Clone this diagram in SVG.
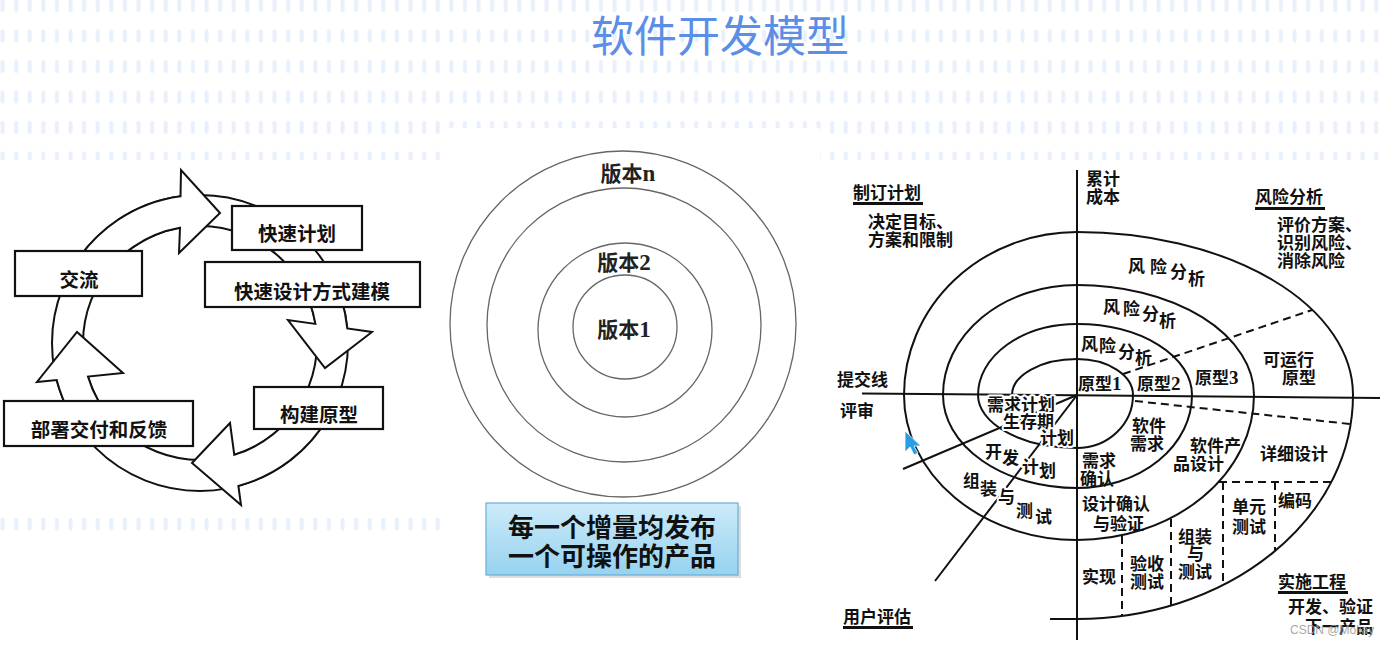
<svg xmlns="http://www.w3.org/2000/svg" width="1383" height="645" viewBox="0 0 1383 645">
<defs>
<pattern id="dots" patternUnits="userSpaceOnUse" x="0" y="-2" width="13.6" height="30.5">
<rect x="0.5" y="1" width="4" height="13" rx="2" fill="#e8f0fb"/>
</pattern>
<linearGradient id="bluebox" x1="0" y1="0" x2="0" y2="1">
<stop offset="0" stop-color="#cdebf9"/>
<stop offset="1" stop-color="#96d2ef"/>
</linearGradient>
</defs>
<style>
.box{fill:#fff;stroke:#111;stroke-width:2.2}
.ring{fill:#fff;stroke:#111;stroke-width:2}
.lt{font-family:"Noto Sans CJK SC","Noto Sans",sans-serif;font-size:19.5px;font-weight:bold;text-anchor:middle;fill:#111}
.mc{fill:none;stroke:#666;stroke-width:1.3}
.vt{font-family:"Noto Sans CJK SC",sans-serif;font-size:21px;font-weight:bold;fill:#222;text-anchor:middle}
.dg{font-family:"Liberation Serif",serif;font-weight:bold}
.sp{fill:none;stroke:#111;stroke-width:2}
.dash{fill:none;stroke:#111;stroke-width:2;stroke-dasharray:8 5}
.st{font-family:"Noto Sans CJK SC",sans-serif;font-size:17px;font-weight:bold;fill:#111}
.halo{stroke:#fff;stroke-width:4;paint-order:stroke;stroke-linejoin:round}
.ul{fill:#111}
</style>

<!-- background -->
<rect x="0" y="0" width="1383" height="645" fill="#fff"/>
<rect x="0" y="0" width="1383" height="160" fill="url(#dots)"/>
<rect x="0" y="518" width="440" height="16" fill="url(#dots)"/>
<rect x="441" y="128" width="379" height="517" fill="#fff"/>

<g id="title">
<text x="720" y="52" font-family="'Noto Sans CJK SC',sans-serif" font-size="43" fill="#5b8ee6" text-anchor="middle">软件开发模型</text>
</g>

<!-- ===== Left: prototype cycle ===== -->
<g id="cycle-connectors">
<path class="ring" fill-rule="evenodd" d="M52 343 A148 148 0 1 1 348 343 A148 148 0 1 1 52 343 Z M83 343 A117 117 0 1 0 317 343 A117 117 0 1 0 83 343 Z"/>
<path class="ring" d="M72 269 A148 148 0 0 1 180.5 196.3 L181 170 L220 213 L179 253 L180 227.7 A117 117 0 0 0 98.7 284.5 Z"/>
<path class="ring" d="M328.2 269 A148 148 0 0 1 347.3 328.4 L372 332 L325 368 L288 320 L315.4 323.9 A117 117 0 0 0 301.3 284.5 Z"/>
<path class="ring" d="M328.2 417 A148 148 0 0 1 238.4 485.9 L241 505 L192 463 L230 423 L234.3 454.9 A117 117 0 0 0 301.3 401.5 Z"/>
<path class="ring" d="M71.8 417 A148 148 0 0 1 56.7 380 L37 382 L77 332 L123 373 L88 376.6 A117 117 0 0 0 98.7 401.5 Z"/>
</g>
<g id="node-kuaisujihua"><rect class="box" x="232" y="206" width="130" height="44"/><text class="lt" x="297" y="241">快速计划</text></g>
<g id="node-kuaisusheji"><rect class="box" x="205" y="262" width="215" height="45"/><text class="lt" x="312" y="299">快速设计方式建模</text></g>
<g id="node-jiaoliu"><rect class="box" x="15" y="251" width="127" height="45"/><text class="lt" x="79" y="287">交流</text></g>
<g id="node-goujian"><rect class="box" x="254" y="387" width="129" height="42"/><text class="lt" x="319" y="422">构建原型</text></g>
<g id="node-bushu"><rect class="box" x="4" y="401" width="189" height="45"/><text class="lt" x="99" y="437">部署交付和反馈</text></g>

<!-- ===== Middle: incremental ===== -->
<g id="incremental">
<circle class="mc" cx="623" cy="324" r="173"/>
<circle class="mc" cx="624" cy="325" r="137"/>
<circle class="mc" cx="625" cy="330" r="87"/>
<circle class="mc" cx="625" cy="327" r="52"/>
<text class="vt" x="628" y="181">版本<tspan class="dg" font-size="23">n</tspan></text>
<text class="vt" x="624" y="270">版本<tspan class="dg" font-size="23">2</tspan></text>
<text class="vt" x="624" y="337">版本<tspan class="dg" font-size="23">1</tspan></text>
</g>
<g id="node-increment-note">
<rect x="489" y="506" width="252" height="72" fill="#bbb" opacity="0.5"/>
<rect x="486" y="503" width="252" height="72" fill="url(#bluebox)" stroke="#6aaed6" stroke-width="1.2"/>
<text font-family="'Noto Sans CJK SC',sans-serif" font-size="26" font-weight="bold" fill="#111" text-anchor="middle"><tspan x="612" y="537">每一个增量均发布</tspan><tspan x="612" y="566">一个可操作的产品</tspan></text>
</g>

<!-- ===== Right: spiral ===== -->
<g id="spiral-connectors">
<path class="sp" d="M1077 170 V640"/>
<path class="sp" d="M862 393.5 L1380 398"/>
<path class="sp" d="M1050 619 H1077"/>
<path class="sp" d="M1012 395 A65 36 0 0 1 1077 359 A56 36 0 0 1 1133 395 A56 53 0 0 1 1077 448 A99 53 0 0 1 978 395 A99 71 0 0 1 1077 324 A115 71 0 0 1 1192 395 A115 93 0 0 1 1077 488 A134 93 0 0 1 943 395 A134 110 0 0 1 1077 285 A177 110 0 0 1 1254 395 A177 145 0 0 1 1077 540 A173 145 0 0 1 904 395 A173 163 0 0 1 1077 232 A276 163 0 0 1 1353 395 A276 224 0 0 1 1077 619"/>
<path class="sp" d="M1077 395 L903 469"/>
<path class="sp" d="M1077 395 L935 581"/>
<path class="dash" d="M1123 374 L1312 310"/>
<path class="dash" d="M1135 401 L1350 424"/>
<path class="dash" d="M1219 482 H1331"/>
<path class="dash" d="M1223 482 V585"/>
<path class="dash" d="M1275 482 V551"/>
<path class="dash" d="M1171 519 V606"/>
<path class="dash" d="M1122 536 V615"/>
</g>

<g id="spiral-labels">
<text class="st" x="853" y="199">制订计划</text><rect class="ul" x="853" y="202" width="70" height="3"/>
<text class="st"><tspan x="868" y="228">决定目标、</tspan><tspan x="868" y="246">方案和限制</tspan></text>
<text class="st"><tspan x="1086" y="185">累计</tspan><tspan x="1086" y="203">成本</tspan></text>
<text class="st" x="1255" y="203">风险分析</text><rect class="ul" x="1255" y="207" width="70" height="3"/>
<text class="st"><tspan x="1277" y="231">评价方案、</tspan><tspan x="1277" y="249">识别风险、</tspan><tspan x="1277" y="267">消除风险</tspan></text>
<text class="st" x="837" y="386">提交线</text>
<text class="st" x="840" y="417">评审</text>

<text class="st"><tspan x="1128" y="272">风</tspan><tspan x="1150" y="273">险</tspan><tspan x="1170" y="278">分</tspan><tspan x="1188" y="285">析</tspan></text>
<text class="st"><tspan x="1103" y="313">风</tspan><tspan x="1123" y="315">险</tspan><tspan x="1142" y="320">分</tspan><tspan x="1159" y="327">析</tspan></text>
<text class="st"><tspan x="1081" y="350">风</tspan><tspan x="1099" y="352">险</tspan><tspan x="1118" y="358">分</tspan><tspan x="1135" y="364">析</tspan></text>

<text class="st" x="1078" y="390">原型<tspan class="dg" font-size="19">1</tspan></text>
<text class="st" x="1137" y="390">原型<tspan class="dg" font-size="19">2</tspan></text>
<text class="st" x="1195" y="384">原型<tspan class="dg" font-size="19">3</tspan></text>
<text class="st"><tspan x="1263" y="366">可运行</tspan><tspan x="1282" y="384">原型</tspan></text>

<text class="st halo" x="987" y="411">需求计划</text>
<text class="st halo"><tspan x="1003" y="428">生存期</tspan><tspan x="1040" y="444">计划</tspan></text>
<text class="st halo"><tspan x="985" y="458">开</tspan><tspan x="1002" y="464">发</tspan><tspan x="1022" y="473">计</tspan><tspan x="1039" y="477">划</tspan></text>
<text class="st halo"><tspan x="963" y="487">组</tspan><tspan x="980" y="495">装</tspan><tspan x="998" y="503">与</tspan><tspan x="1016" y="517">测</tspan><tspan x="1035" y="523">试</tspan></text>

<text class="st"><tspan x="1132" y="432">软件</tspan><tspan x="1130" y="450">需求</tspan></text>
<text class="st"><tspan x="1082" y="467">需求</tspan><tspan x="1080" y="485">确认</tspan></text>
<text class="st"><tspan x="1190" y="452">软件产</tspan><tspan x="1173" y="470">品设计</tspan></text>
<text class="st" x="1260" y="460">详细设计</text>
<text class="st"><tspan x="1082" y="510">设计确认</tspan><tspan x="1093" y="530">与验证</tspan></text>
<text class="st" x="1082" y="583">实现</text>
<text class="st"><tspan x="1130" y="570">验收</tspan><tspan x="1130" y="588">测试</tspan></text>
<text class="st"><tspan x="1178" y="543">组装</tspan><tspan x="1187" y="560">与</tspan><tspan x="1178" y="578">测试</tspan></text>
<text class="st"><tspan x="1232" y="513">单元</tspan><tspan x="1232" y="533">测试</tspan></text>
<text class="st" x="1278" y="507">编码</text>

<text class="st" x="1278" y="588">实施工程</text><rect class="ul" x="1278" y="591" width="70" height="3"/>
<text class="st"><tspan x="1288" y="613">开发、验证</tspan><tspan x="1305" y="633">下一产品</tspan></text>
<text class="st" x="843" y="623">用户评估</text><rect class="ul" x="843" y="626" width="70" height="3"/>
</g>

<g id="cursor">
<path d="M905 431 L905 452 L910 447 L914 455 L918 453 L914 446 L921 446 Z" fill="#2b9de3" stroke="#fff" stroke-width="0.8"/>
</g>
<g id="watermark">
<text x="1290" y="634" font-family="'Liberation Sans',sans-serif" font-size="12" fill="#9a9a9a" opacity="0.85">CSDN @Moliay</text>
</g>
</svg>
